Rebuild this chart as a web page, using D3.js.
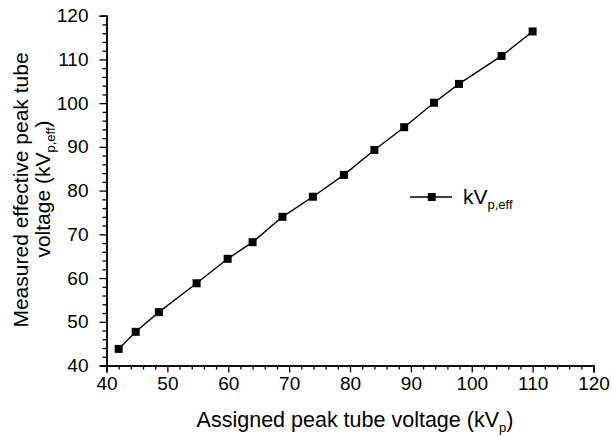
<!DOCTYPE html>
<html><head><meta charset="utf-8">
<script src="https://cdn.jsdelivr.net/npm/d3@7"></script>
<style>body{margin:0;background:#fff}svg{display:block}text{font-family:"Liberation Sans",Arial,sans-serif;fill:#000}</style>
</head><body><svg id="c" width="612" height="437"></svg>
<script>
const assignedKVp = [42.0, 44.8, 48.6, 54.8, 59.9, 64.0, 68.9, 73.9, 79.0, 84.0, 88.9, 93.8, 97.9, 104.9, 110.0];
const measuredKVpEff = [43.8, 47.7, 52.2, 58.8, 64.4, 68.2, 74.0, 78.6, 83.6, 89.3, 94.5, 100.1, 104.4, 110.8, 116.4];
const xTicks = [40, 50, 60, 70, 80, 90, 100, 110, 120];
const yTicks = [40, 50, 60, 70, 80, 90, 100, 110, 120];

const svg = d3.select("#c");
const x = d3.scaleLinear().domain([40, 120]).range([106.5, 593.5]);
const y = d3.scaleLinear().domain([40, 120]).range([365.5, 15.7]);

const minorX = d3.range(40, 121, 2).filter(v => v % 10 !== 0);
const minorY = d3.range(40, 121, 2).filter(v => v % 10 !== 0);

// x axis
const gx = svg.append("g").attr("transform", `translate(0,${y(40)})`);
gx.call(d3.axisBottom(x).tickValues(xTicks).tickSize(7).tickPadding(4).tickFormat(d3.format("d")));
gx.append("g").call(d3.axisBottom(x).tickValues(minorX).tickSize(4).tickFormat(""));
// y axis
const gy = svg.append("g").attr("transform", `translate(${x(40)},0)`);
gy.call(d3.axisLeft(y).tickValues(yTicks).tickSize(7).tickPadding(11).tickFormat(d3.format("d")));
gy.append("g").call(d3.axisLeft(y).tickValues(minorY).tickSize(4).tickFormat(""));
svg.selectAll(".domain").attr("stroke", "#000").attr("stroke-width", 1.5);
svg.selectAll(".tick line").attr("stroke", "#000").attr("stroke-width", 1.3);
svg.selectAll(".tick text").style("font-size", "19px").attr("fill", "#000");
gx.selectAll(".tick text").attr("dy", "0.72em");

// line
const data = assignedKVp.map((v, i) => [v, measuredKVpEff[i]]);
svg.append("path").datum(data)
  .attr("fill", "none").attr("stroke", "#000").attr("stroke-width", 1.4)
  .attr("d", d3.line().x(d => x(d[0])).y(d => y(d[1])));
svg.selectAll("rect.pt").data(data).join("rect").attr("class", "pt")
  .attr("x", d => x(d[0]) - 4).attr("y", d => y(d[1]) - 4)
  .attr("width", 8).attr("height", 8).attr("fill", "#000");

// legend
svg.append("line").attr("x1", 410).attr("x2", 452).attr("y1", 197).attr("y2", 197)
  .attr("stroke", "#000").attr("stroke-width", 1.4);
svg.append("rect").attr("x", 427.7).attr("y", 193).attr("width", 8).attr("height", 8).attr("fill", "#000");
const lt = svg.append("text").attr("x", 463).attr("y", 204).style("font-size", "21px");
lt.append("tspan").text("kV");
lt.append("tspan").attr("dy", 5).style("font-size", "13px").text("p,eff");

// x title
const xt = svg.append("text").attr("x", 355).attr("y", 427).attr("text-anchor", "middle").style("font-size", "21.5px");
xt.append("tspan").text("Assigned peak tube voltage (kV");
xt.append("tspan").attr("dy", 5).style("font-size", "13px").text("p");
xt.append("tspan").attr("dy", -5).text(")");

// y title
const yt = svg.append("g").attr("transform", "rotate(-90)");
yt.append("text").attr("x", -190).attr("y", 28).attr("text-anchor", "middle").style("font-size", "21px")
  .text("Measured effective peak tube");
const yt2 = yt.append("text").attr("x", -189).attr("y", 50).attr("text-anchor", "middle").style("font-size", "21px");
yt2.append("tspan").text("voltage (kV");
yt2.append("tspan").attr("dy", 5).style("font-size", "13px").text("p,eff");
yt2.append("tspan").attr("dy", -5).text(")");
</script></body></html>
